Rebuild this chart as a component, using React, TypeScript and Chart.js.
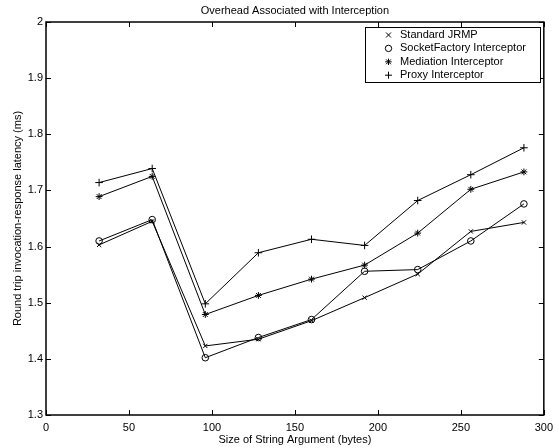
import React, { useEffect, useRef } from "react";
import { Chart, registerables } from "chart.js";

Chart.register(...registerables);

const xValues = [32, 64, 96, 128, 160, 192, 224, 256, 288];
const standardJRMP = [1.603, 1.645, 1.423, 1.435, 1.468, 1.509, 1.551, 1.627, 1.643];
const socketFactory = [1.61, 1.648, 1.402, 1.438, 1.47, 1.556, 1.559, 1.61, 1.676];
const mediation = [1.689, 1.725, 1.479, 1.513, 1.542, 1.567, 1.624, 1.702, 1.733];
const proxy = [1.714, 1.739, 1.498, 1.589, 1.613, 1.602, 1.682, 1.728, 1.776];
const seriesLabels = [
  "Standard JRMP",
  "SocketFactory Interceptor",
  "Mediation Interceptor",
  "Proxy Interceptor",
];
const xTicks = [0, 50, 100, 150, 200, 250, 300];
const yTicks = [1.3, 1.4, 1.5, 1.6, 1.7, 1.8, 1.9, 2];
const titleText = "Overhead Associated with Interception";
const xTitle = "Size of String Argument (bytes)";
const yTitle = "Round trip invocation-response latency (ms)";

const FONT = "'Liberation Sans', Arial, Helvetica, sans-serif";

function drawMarker(ctx: CanvasRenderingContext2D, style: string, x: number, y: number) {
  ctx.save();
  ctx.strokeStyle = "#000";
  ctx.lineWidth = 1;
  ctx.beginPath();
  if (style === "crossRot") {
    const r = 2.5;
    ctx.moveTo(x - r, y - r);
    ctx.lineTo(x + r, y + r);
    ctx.moveTo(x - r, y + r);
    ctx.lineTo(x + r, y - r);
  } else if (style === "circle") {
    ctx.arc(x, y, 3.2, 0, Math.PI * 2);
  } else if (style === "star") {
    const r = 3.2;
    ctx.moveTo(x - r, y);
    ctx.lineTo(x + r, y);
    ctx.moveTo(x, y - r);
    ctx.lineTo(x, y + r);
    const d = r * 0.75;
    ctx.moveTo(x - d, y - d);
    ctx.lineTo(x + d, y + d);
    ctx.moveTo(x - d, y + d);
    ctx.lineTo(x + d, y - d);
  } else {
    const r = 3.5;
    ctx.moveTo(x - r, y);
    ctx.lineTo(x + r, y);
    ctx.moveTo(x, y - r);
    ctx.lineTo(x, y + r);
  }
  ctx.stroke();
  ctx.restore();
}

const matlabPlugin = {
  id: "matlabDecor",
  afterDraw(chart: any) {
    const ctx: CanvasRenderingContext2D = chart.ctx;
    const { left, right, top, bottom } = chart.chartArea;
    const xs = chart.scales.x;
    const ys = chart.scales.y;
    ctx.save();
    // inward ticks
    ctx.strokeStyle = "#000";
    ctx.lineWidth = 1;
    const tl = 5;
    ctx.beginPath();
    xTicks.forEach((v) => {
      const px = Math.round(xs.getPixelForValue(v)) + 0.5;
      ctx.moveTo(px, bottom);
      ctx.lineTo(px, bottom - tl);
      ctx.moveTo(px, top);
      ctx.lineTo(px, top + tl);
    });
    yTicks.forEach((v) => {
      const py = Math.round(ys.getPixelForValue(v)) + 0.5;
      ctx.moveTo(left, py);
      ctx.lineTo(left + tl, py);
      ctx.moveTo(right, py);
      ctx.lineTo(right - tl, py);
    });
    ctx.stroke();
    // box
    ctx.lineWidth = 1.5;
    ctx.strokeRect(left, top, right - left, bottom - top);

    // titles
    ctx.fillStyle = "#000";
    ctx.font = `11px ${FONT}`;
    ctx.textAlign = "center";
    ctx.textBaseline = "middle";
    ctx.fillText(titleText, (left + right) / 2, 11);
    ctx.fillText(xTitle, (left + right) / 2, 440);
    ctx.save();
    ctx.translate(18, (top + bottom) / 2);
    ctx.rotate(-Math.PI / 2);
    ctx.fillText(yTitle, 0, 0);
    ctx.restore();

    // legend
    const lx = 365, ly = 27, lw = 175, lh = 55;
    ctx.fillStyle = "#fff";
    ctx.fillRect(lx, ly, lw, lh);
    ctx.strokeStyle = "#000";
    ctx.lineWidth = 1;
    ctx.strokeRect(lx + 0.5, ly + 0.5, lw, lh);
    ctx.fillStyle = "#000";
    ctx.textAlign = "left";
    ctx.textBaseline = "middle";
    chart.data.datasets.forEach((ds: any, i: number) => {
      const yy = 35 + i * 13.4;
      drawMarker(ctx, ds.pointStyle, 388.5, yy);
      ctx.fillText(ds.label, 400, yy);
    });
    ctx.restore();
  },
};

export default function App() {
  const canvasRef = useRef<HTMLCanvasElement | null>(null);

  useEffect(() => {
    if (!canvasRef.current) return;
    const mk = (vals: number[]) => xValues.map((x, i) => ({ x, y: vals[i] }));
    const styles = ["crossRot", "circle", "star", "cross"];
    const radii = [3, 3.3, 3.4, 3.8];
    const all = [standardJRMP, socketFactory, mediation, proxy];
    const chart = new Chart(canvasRef.current, {
      type: "line",
      data: {
        datasets: all.map((vals, i) => ({
          label: seriesLabels[i],
          data: mk(vals),
          borderColor: "#000",
          borderWidth: 1,
          backgroundColor: "rgba(0,0,0,0)",
          pointStyle: styles[i] as any,
          pointRadius: radii[i],
          pointBorderColor: "#000",
          pointBackgroundColor: "rgba(0,0,0,0)",
          pointBorderWidth: 1,
          fill: false,
          tension: 0,
        })),
      },
      options: {
        animation: false,
        responsive: false,
        devicePixelRatio: 1,
        layout: { padding: { top: 22, right: 13, left: 0, bottom: 0 } },
        plugins: {
          legend: { display: false },
          title: { display: false },
          tooltip: { enabled: false },
        },
        scales: {
          x: {
            type: "linear",
            min: 0,
            max: 300,
            afterFit: (s: any) => {
              s.height = 33;
            },
            afterBuildTicks: (s: any) => {
              s.ticks = xTicks.map((v) => ({ value: v }));
            },
            grid: { display: false, drawTicks: false },
            border: { display: false },
            ticks: {
              color: "#000",
              padding: 6,
              maxRotation: 0,
              font: { family: FONT, size: 11 },
              callback: (v: any) => String(v),
            },
          },
          y: {
            type: "linear",
            min: 1.3,
            max: 2,
            afterFit: (s: any) => {
              s.width = 46;
            },
            afterBuildTicks: (s: any) => {
              s.ticks = yTicks.map((v) => ({ value: v }));
            },
            grid: { display: false, drawTicks: false },
            border: { display: false },
            ticks: {
              color: "#000",
              padding: 3,
              font: { family: FONT, size: 11 },
              callback: (v: any) => {
                const n = Math.round(Number(v) * 10) / 10;
                return n === 2 ? "2" : n.toFixed(1);
              },
            },
          },
        },
      },
      plugins: [matlabPlugin],
    });
    return () => chart.destroy();
  }, []);

  return (
    <div style={{ position: "absolute", left: 0, top: 0, width: 559, height: 448, background: "#fff" }}>
      <canvas ref={canvasRef} width={559} height={448} style={{ display: "block" }} />
    </div>
  );
}
